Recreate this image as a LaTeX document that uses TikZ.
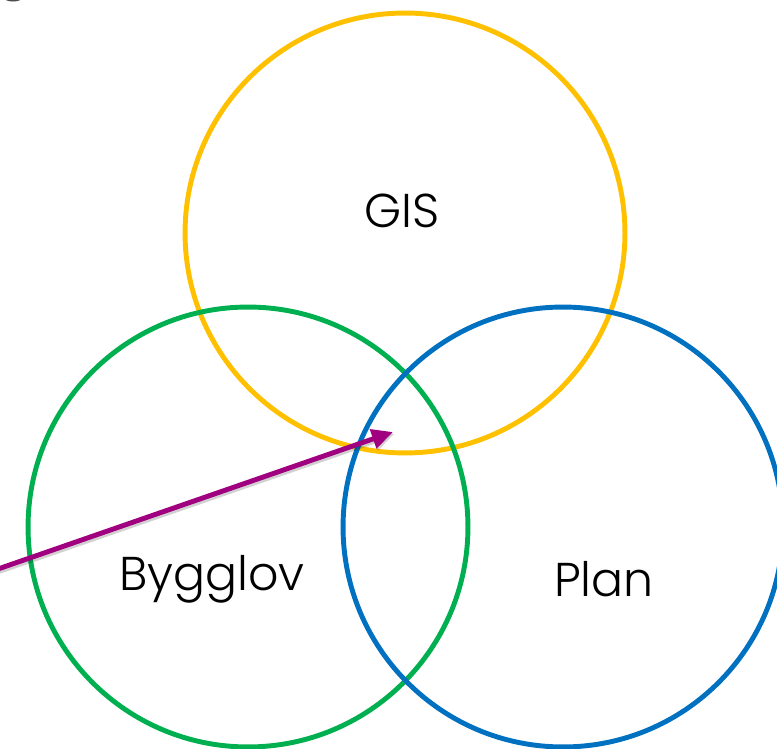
\documentclass[tikz,border=0pt]{standalone}
\usepackage{fontspec}
\setmainfont{Poppins}[UprightFont={* Light}]
\usepackage{tikz}
\usetikzlibrary{positioning,arrows.meta,shapes.geometric}

\definecolor{gisyellow}{RGB}{255,192,0}
\definecolor{byggreen}{RGB}{0,176,80}
\definecolor{planblue}{RGB}{0,112,192}
\definecolor{pointpurple}{RGB}{160,0,128}

\begin{document}
\begin{tikzpicture}[
x=0.02cm, y=-0.02cm,
ring/.style={
  draw,
  circle,
  line width=2.8pt,
  minimum size=8.8cm,
  inner sep=0pt
  },
label/.style={
  font=\fontsize{27}{31}\selectfont,
  text=black,
  inner sep=0pt
  },
pointer/.style={
  pointpurple,
  line width=2.8pt,
  -{Triangle[length=12pt,width=11pt]},
  preaction={draw=black, opacity=0.18, line width=3.4pt,
    transform canvas={shift={(0.8pt,-1pt)}}}
  },
>=latex
]
\useasboundingbox (0,0) rectangle (777,749);

% the three circles
\node[ring, draw=gisyellow] (gis) at (405,233) {};
\node[ring, draw=byggreen] (bygg) at (248,527) {};
\node[ring, draw=planblue] (plan) at (563,527) {};

\node[label] (gistext) at (402,211) {GIS};
\node[label] (byggtext) at (212,579) {Bygglov};
\node[label] (plantext) at (604,579) {Plan};

% pointer into the middle
\coordinate (start) at (-2,569);
\coordinate (tip) at (393,432);
\draw[pointer] (start) -- (tip);

% cut-off piece in the corner
\node[fill=black!70, ellipse, inner sep=0pt,
  minimum height=4pt, minimum width=10pt] (corner) at (13,-2) {};
\end{tikzpicture}
\end{document}
